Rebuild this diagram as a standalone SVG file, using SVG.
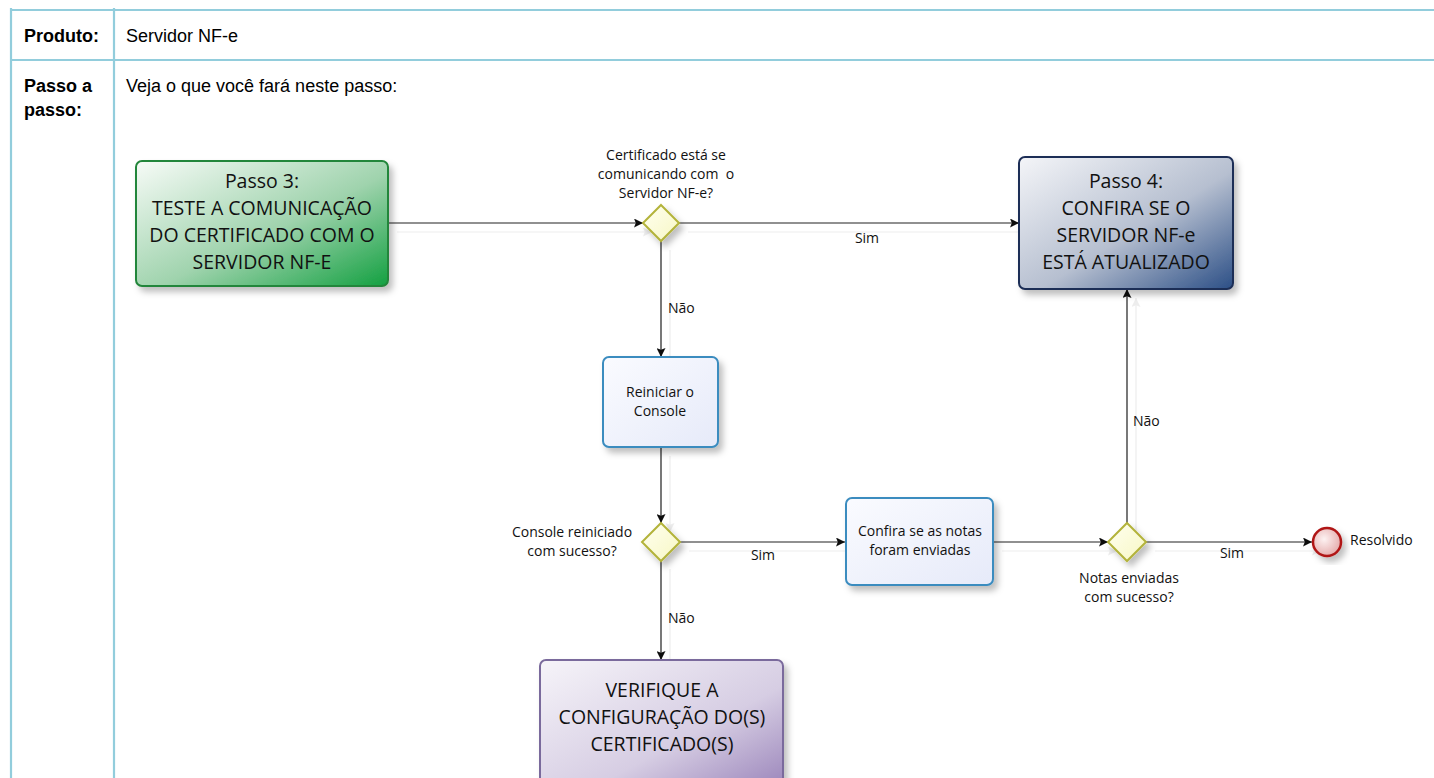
<svg xmlns="http://www.w3.org/2000/svg" width="1434" height="778" viewBox="0 0 1434 778">
<style>
.tbl{stroke:#92CDDC;stroke-width:2.2;fill:none}
.th{font-family:"Liberation Sans",Arial,sans-serif;font-size:18px;fill:#000}
.b{font-weight:bold}
.title{font-family:"Open Sans","Noto Sans",sans-serif;font-size:19.5px;fill:#111;text-anchor:middle}
.lbl{font-family:"Open Sans","Noto Sans",sans-serif;font-size:14px;fill:#111}
.c{text-anchor:middle}
.conn{stroke:#222;stroke-width:1.2;fill:none}
.task{fill:url(#gTask);stroke:#3a8cbf;stroke-width:2}
.gw{fill:url(#gGw);stroke:#b3b33a;stroke-width:2}
</style>
<defs>
<linearGradient id="gGreen" x1="0" y1="0" x2="1" y2="1"><stop offset="0" stop-color="#f7fbf7"/><stop offset="0.55" stop-color="#9fd3ad"/><stop offset="1" stop-color="#13a041"/></linearGradient>
<linearGradient id="gBlue" x1="0" y1="0" x2="1" y2="1"><stop offset="0" stop-color="#f4f5f8"/><stop offset="0.55" stop-color="#b6bfd0"/><stop offset="1" stop-color="#2c4f86"/></linearGradient>
<linearGradient id="gPurple" x1="0" y1="0" x2="1" y2="1"><stop offset="0" stop-color="#f6f4f9"/><stop offset="0.6" stop-color="#d6cde3"/><stop offset="1" stop-color="#9a84ba"/></linearGradient>
<linearGradient id="gTask" x1="0" y1="0" x2="1" y2="1"><stop offset="0" stop-color="#fafbff"/><stop offset="1" stop-color="#e6eaf9"/></linearGradient>
<linearGradient id="gGw" x1="0" y1="0" x2="1" y2="1"><stop offset="0" stop-color="#fffff0"/><stop offset="1" stop-color="#f7f7c4"/></linearGradient>
<radialGradient id="gEnd" cx="0.4" cy="0.4" r="0.7"><stop offset="0" stop-color="#fdf2f2"/><stop offset="1" stop-color="#e2a4a4"/></radialGradient>
<filter id="sh" x="-20%" y="-20%" width="150%" height="150%"><feDropShadow dx="4" dy="5" stdDeviation="3" flood-color="#000" flood-opacity="0.25"/></filter>
<filter id="csh" x="-5%" y="-5%" width="120%" height="120%"><feDropShadow dx="9" dy="9" stdDeviation="0.6" flood-color="#000" flood-opacity="0.07"/></filter>
<marker id="arr" viewBox="0 0 10 10" refX="10" refY="5" markerWidth="9" markerHeight="9" markerUnits="userSpaceOnUse" orient="auto"><path d="M0,0 L10,5 L0,10 L2,5 z" fill="#111"/></marker>
</defs>
<rect x="0" y="0" width="1434" height="778" fill="#fff"/>
<g id="table">
<line class="tbl" x1="11" y1="10" x2="1434" y2="10"/>
<line class="tbl" x1="11" y1="60" x2="1434" y2="60"/>
<line class="tbl" x1="11" y1="8" x2="11" y2="778"/>
<line class="tbl" x1="114" y1="8" x2="114" y2="778"/>
<text class="th b" x="24" y="42">Produto:</text>
<text class="th" x="126" y="42">Servidor NF-e</text>
<text class="th b" x="24" y="92">Passo a</text>
<text class="th b" x="24" y="116">passo:</text>
<text class="th" x="126" y="92">Veja o que você fará neste passo:</text>
</g>
<g id="connectors" filter="url(#csh)">
<line class="conn" x1="388" y1="223" x2="643" y2="223" marker-end="url(#arr)"/>
<line class="conn" x1="679" y1="223" x2="1019" y2="223" marker-end="url(#arr)"/>
<line class="conn" x1="661" y1="241" x2="661" y2="357" marker-end="url(#arr)"/>
<line class="conn" x1="661" y1="447" x2="661" y2="523" marker-end="url(#arr)"/>
<line class="conn" x1="680" y1="542" x2="845" y2="542" marker-end="url(#arr)"/>
<line class="conn" x1="661" y1="560" x2="661" y2="660" marker-end="url(#arr)"/>
<line class="conn" x1="993" y1="542" x2="1108" y2="542" marker-end="url(#arr)"/>
<line class="conn" x1="1127" y1="523" x2="1127" y2="289" marker-end="url(#arr)"/>
<line class="conn" x1="1146" y1="542" x2="1312" y2="542" marker-end="url(#arr)"/>
</g>
<g id="connector-labels">
<text class="lbl c" x="867" y="243">Sim</text>
<text class="lbl" x="668" y="313">Não</text>
<text class="lbl c" x="763" y="560">Sim</text>
<text class="lbl" x="668" y="623">Não</text>
<text class="lbl" x="1133" y="426">Não</text>
<text class="lbl c" x="1232" y="558">Sim</text>
</g>
<g id="passo3">
<rect x="136" y="161" width="252" height="125" rx="6" fill="url(#gGreen)" stroke="#23863a" stroke-width="2" filter="url(#sh)"/>
<text class="title" x="262" y="188">Passo 3:</text>
<text class="title" x="262" y="215">TESTE A COMUNICAÇÃO</text>
<text class="title" x="262" y="242">DO CERTIFICADO COM O</text>
<text class="title" x="262" y="269">SERVIDOR NF-E</text>
</g>
<g id="gw1">
<path class="gw" d="M661,205 L679,223 L661,241 L643,223 z" filter="url(#sh)"/>
<text class="lbl c" x="666" y="160">Certificado está se</text>
<text class="lbl c" x="666" y="179" xml:space="preserve">comunicando com  o</text>
<text class="lbl c" x="666" y="198">Servidor NF-e?</text>
</g>
<g id="passo4">
<rect x="1019" y="157" width="214" height="132" rx="6" fill="url(#gBlue)" stroke="#1e2f57" stroke-width="2" filter="url(#sh)"/>
<text class="title" x="1126" y="188">Passo 4:</text>
<text class="title" x="1126" y="215">CONFIRA SE O</text>
<text class="title" x="1126" y="242">SERVIDOR NF-e</text>
<text class="title" x="1126" y="269">ESTÁ ATUALIZADO</text>
</g>
<g id="reiniciar">
<rect class="task" x="603" y="357" width="115" height="90" rx="6" filter="url(#sh)"/>
<text class="lbl c" x="660" y="397">Reiniciar o</text>
<text class="lbl c" x="660" y="416">Console</text>
</g>
<g id="gw2">
<path class="gw" d="M661,523 L680,542 L661,561 L642,542 z" filter="url(#sh)"/>
<text class="lbl c" x="572" y="537">Console reiniciado</text>
<text class="lbl c" x="572" y="556">com sucesso?</text>
</g>
<g id="confira">
<rect class="task" x="846" y="498" width="147" height="87" rx="6" filter="url(#sh)"/>
<text class="lbl c" x="920" y="536">Confira se as notas</text>
<text class="lbl c" x="920" y="555">foram enviadas</text>
</g>
<g id="gw3">
<path class="gw" d="M1127,523 L1146,542 L1127,561 L1108,542 z" filter="url(#sh)"/>
<text class="lbl c" x="1129" y="583">Notas enviadas</text>
<text class="lbl c" x="1129" y="602">com sucesso?</text>
</g>
<g id="resolvido">
<circle cx="1327" cy="542" r="14" fill="url(#gEnd)" stroke="#b01818" stroke-width="2.5" filter="url(#sh)"/>
<text class="lbl" x="1350" y="545">Resolvido</text>
</g>
<g id="verifique">
<rect x="540" y="660" width="243" height="130" rx="6" fill="url(#gPurple)" stroke="#7a6a9c" stroke-width="2" filter="url(#sh)"/>
<text class="title" x="662" y="697">VERIFIQUE A</text>
<text class="title" x="662" y="724">CONFIGURAÇÃO DO(S)</text>
<text class="title" x="662" y="751">CERTIFICADO(S)</text>
</g>
</svg>
